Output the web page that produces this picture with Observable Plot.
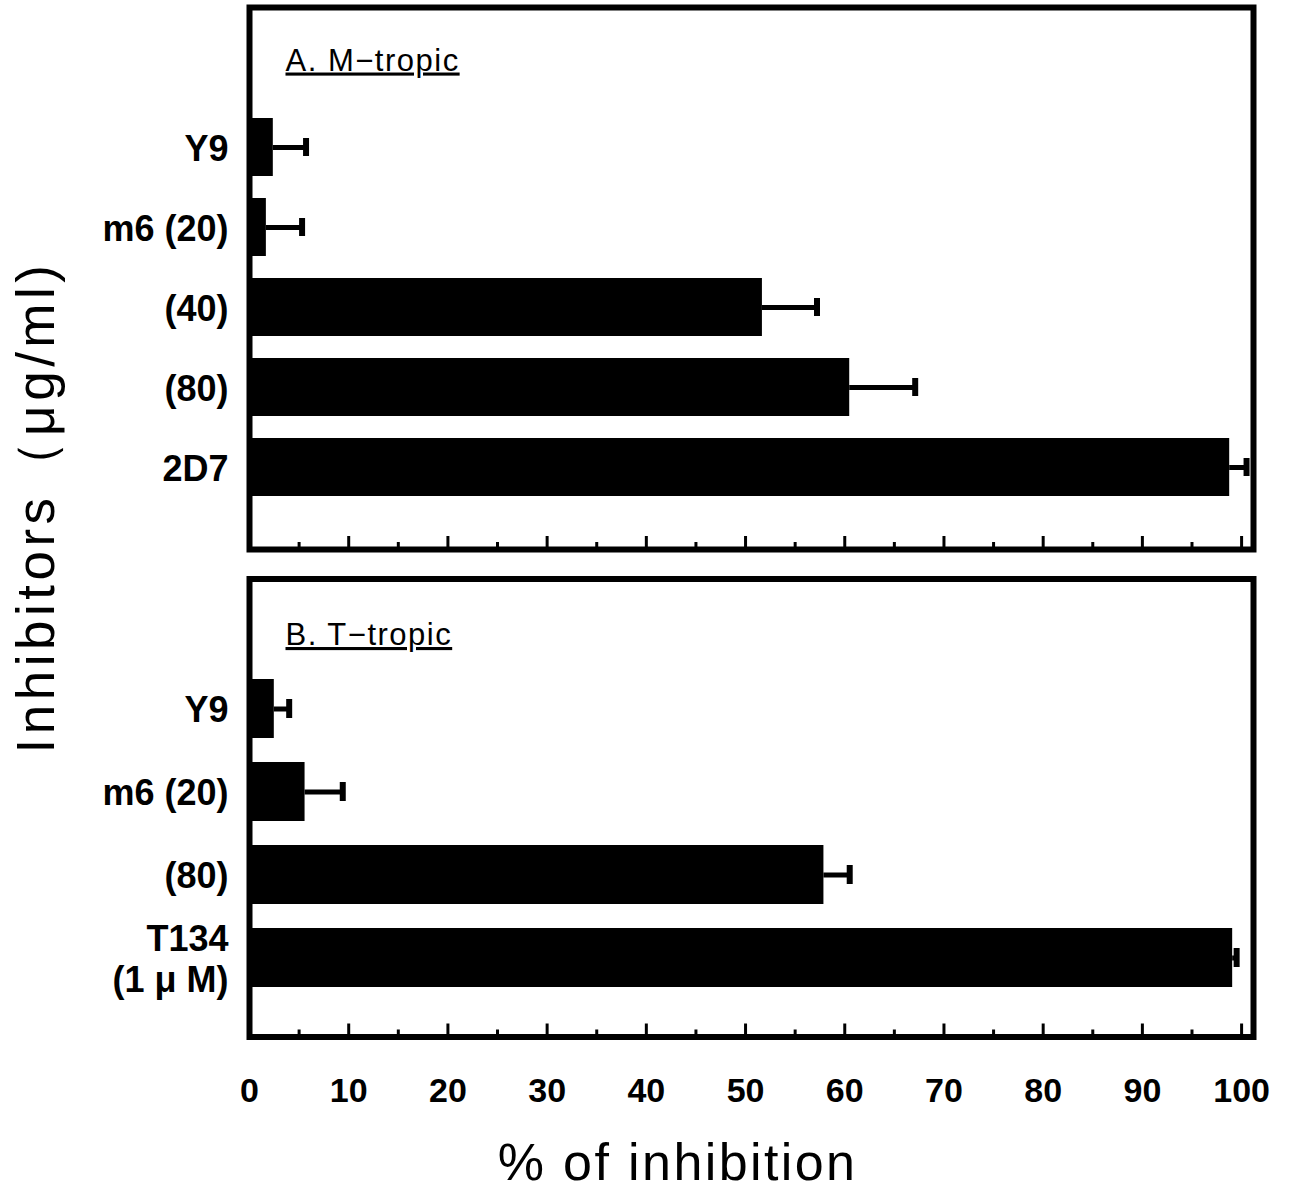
<!DOCTYPE html>
<html><head><meta charset="utf-8">
<script src="https://cdn.jsdelivr.net/npm/d3@7"></script>
<script src="https://cdn.jsdelivr.net/npm/@observablehq/plot@0.6"></script>
<style>
body{margin:0;background:#fff;}
#fig{position:relative;width:1292px;height:1194px;background:#fff;overflow:hidden;}
#fig svg{position:absolute;left:0;overflow:visible;}
#ylab{position:absolute;width:700px;height:52px;line-height:52px;left:-314px;top:481px;text-align:center;
  font-family:"Liberation Sans",Arial,sans-serif;font-size:53px;letter-spacing:4.5px;color:#000;
  transform:rotate(-90deg);transform-origin:50% 50%;white-space:nowrap;}
</style></head>
<body><div id="fig"><div id="ylab"></div></div>
<script>
// ---- data ----
const catsA = ["Y9", "m6\u00a0(20)", "(40)", "(80)", "2D7"];
const meanA = [2.4, 1.7, 51.7, 60.5, 98.8];
const sdA   = [3.3, 3.6, 5.5, 6.6, 1.7];
const catsB = ["Y9", "m6\u00a0(20)", "(80)", "T134\n(1 μ M)"];
const meanB = [2.5, 5.6, 57.9, 99.1];
const sdB   = [1.5, 3.8, 2.6, 0.4];
const xMajor = [0, 10, 20, 30, 40, 50, 60, 70, 80, 90, 100];
const xMinor = [5, 15, 25, 35, 45, 55, 65, 75, 85, 95];
const titleA = "A. M\u2212tropic";
const titleB = "B. T\u2212tropic";
const xLabel = "% of inhibition";
const yLabel = "Inhibitors\uff08μg/ml)";

document.getElementById("ylab").textContent = yLabel;

const FONT = "'Liberation Sans', Arial, sans-serif";

function panel({cats, means, sds, title, top, height, marginTop, marginBottom, yRange, padding, titleDy, last}) {
  const data = cats.map((c, i) => ({cat: c, mean: means[i], hi: means[i] + sds[i]}));
  const frameH = height - marginTop - marginBottom;
  const marks = [
    Plot.barX(data, {x: "mean", y: "cat", fill: "black"}),
    Plot.ruleY(data, {x1: "mean", x2: "hi", y: "cat", stroke: "black", strokeWidth: 5}),
    Plot.tickX(data, {x: "hi", y: "cat", stroke: "black", strokeWidth: 6, insetTop: 20, insetBottom: 20}),
    Plot.ruleX(xMajor, {x: d => d, stroke: "black", strokeWidth: 3, insetTop: frameH - 13}),
    Plot.ruleX(xMinor, {x: d => d, stroke: "black", strokeWidth: 3, insetTop: frameH - 7}),
    Plot.frame({stroke: "black", strokeWidth: 6}),
    Plot.axisY({tickSize: 0, tickPadding: 21, fontSize: 36, fontWeight: "bold", lineHeight: 1.15}),
    Plot.text([title], {text: d => d, frameAnchor: "top-left", dx: 36, dy: titleDy, lineAnchor: "top", textAnchor: "start", fontSize: 31})
  ];
  if (last) {
    marks.push(Plot.axisX({ticks: xMajor, tickSize: 0, tickPadding: 41, fontSize: 34, fontWeight: "bold", label: null}));
    marks.push(Plot.text([xLabel], {text: d => d, frameAnchor: "bottom", dx: -74, dy: 106, lineAnchor: "top", fontSize: 52}));
  }
  const svg = Plot.plot({
    width: 1292, height,
    marginLeft: 249, marginRight: 39, marginTop, marginBottom,
    style: {fontFamily: FONT, color: "black", background: "transparent", overflow: "visible"},
    x: {domain: [0, 101.2], axis: last ? undefined : null},
    y: {domain: cats, range: yRange, padding, axis: null, label: null},
    marks
  });
  svg.style.top = top + "px";
  d3.select(svg).selectAll("text").filter(function() { return this.textContent === title; })
    .style("text-decoration", "underline").style("letter-spacing", "1.5px");
  d3.select(svg).selectAll("text").filter(function() { return this.textContent === xLabel; })
    .style("letter-spacing", "2.4px");
  document.getElementById("fig").appendChild(svg);
}

panel({cats: catsA, means: meanA, sds: sdA, title: titleA, top: 0, height: 560,
  marginTop: 7, marginBottom: 11, yRange: [93.3, 519.7], padding: 0.28, titleDy: 41, last: false});
panel({cats: catsB, means: meanB, sds: sdB, title: titleB, top: 560, height: 634,
  marginTop: 18.5, marginBottom: 157.5, yRange: [93.8, 451.2], padding: 0.29, titleDy: 44, last: true});
</script>
</body></html>
